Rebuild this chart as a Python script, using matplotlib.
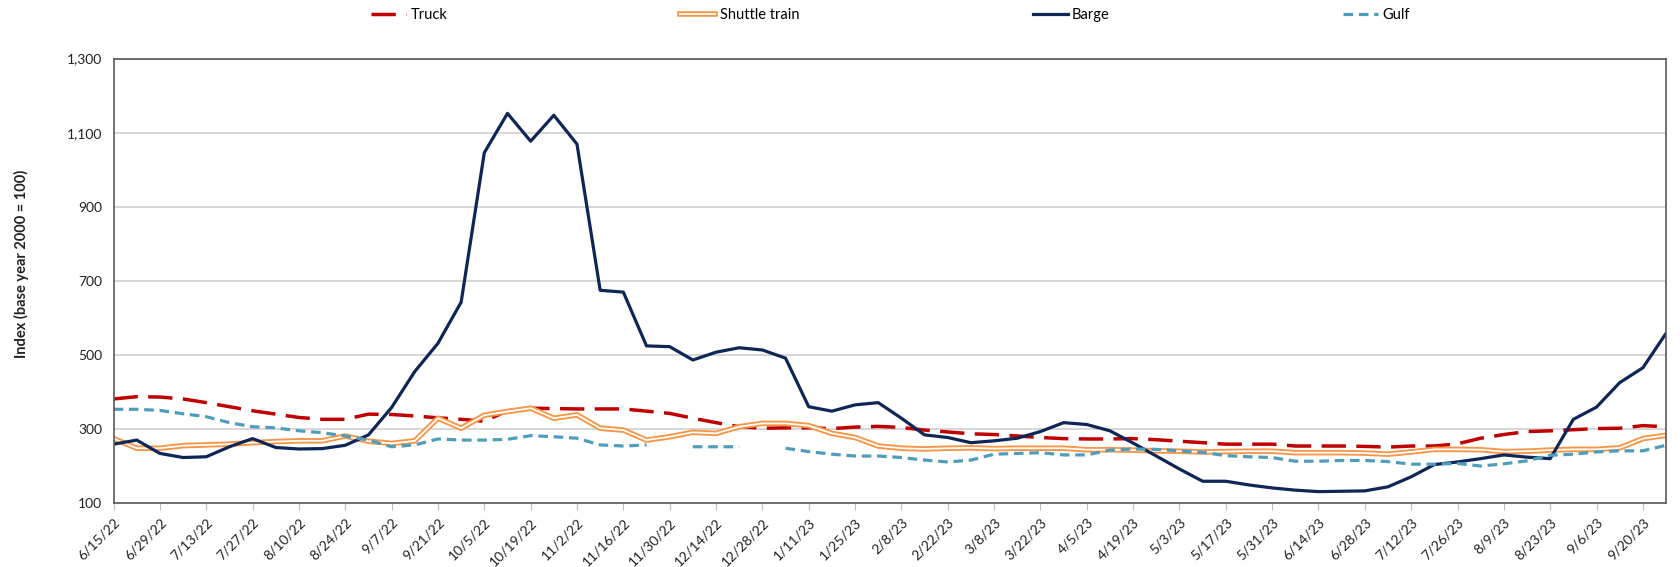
import numpy as np
import pandas as pd
import matplotlib
matplotlib.use("Agg")
import matplotlib.pyplot as plt
import matplotlib.patheffects as pe
from matplotlib.ticker import FuncFormatter

# weekly observations, 6/15/22 .. 9/27/23
weeks = pd.date_range("2022-06-15", periods=68, freq="7D")

truck = [382, 388, 387, 382, 372, 361, 350, 341, 332, 327, 327, 341, 340, 336, 331, 327,
         322, 350, 357, 356, 355, 355, 355, 349, 343, 330, 318, 307, 303, 304, 304, 302,
         306, 308, 305, 298, 293, 288, 286, 282, 278, 275, 274, 274, 275, 272, 268, 264,
         260, 260, 260, 255, 255, 255, 254, 252, 255, 255, 261, 276, 286, 294, 296, 299,
         302, 303, 310, 307]

shuttle = [275, 249, 249, 256, 258, 260, 264, 267, 269, 269, 282, 268, 262, 269, 330, 303,
           338, 348, 357, 330, 339, 303, 298, 271, 280, 292, 289, 307, 316, 316, 310, 289,
           278, 255, 249, 247, 249, 250, 248, 249, 249, 249, 245, 245, 244, 242, 241, 239,
           240, 241, 241, 237, 237, 237, 236, 233, 239, 246, 246, 245, 240, 241, 244, 246,
           246, 250, 275, 284]

barge = [260, 271, 235, 224, 226, 253, 275, 251, 247, 248, 257, 285, 359, 456, 532, 643,
         1046, 1152, 1077, 1147, 1069, 675, 670, 525, 523, 487, 508, 520, 514, 492, 361, 349,
         366, 372, 330, 285, 278, 264, 269, 276, 294, 318, 313, 296, 263, 228, 193, 160,
         160, 150, 142, 136, 132, 133, 134, 145, 172, 205, 212, 221, 231, 225, 221, 327,
         360, 426, 466, 559]

gulf = [354, 354, 351, 342, 334, 318, 307, 304, 296, 291, 282, 271, 253, 258, 274, 271,
        271, 273, 283, 280, 276, 258, 255, 258, np.nan, 253, 253, 253, np.nan, 249, 240, 233,
        228, 228, 224, 217, 212, 217, 233, 235, 237, 231, 231, 244, 247, 246, 242, 238,
        229, 226, 224, 214, 214, 216, 216, 213, 206, 206, 208, 201, 207, 215, 230, 233,
        239, 242, 242, 257]

tick_dates = weeks[::2]
tick_labels = [f"{d.month}/{d.day}/{d.year % 100}" for d in tick_dates]

plt.rcParams["font.family"] = ["Lato", "DejaVu Sans"]

fig = plt.figure(figsize=(16.8, 5.67), dpi=100)
ax = fig.add_axes([0.0676, 0.112, 0.9241, 0.7848])

ax.plot(weeks, truck, color="#C00000", lw=2.5, dashes=(7, 3), label="Truck")
ax.plot(weeks, shuttle, color="white", lw=1.3, label="Shuttle train",
        path_effects=[pe.Stroke(linewidth=4.0, foreground="#F79646"), pe.Normal()])
ax.plot(weeks, barge, color="#0E2656", lw=2.3, label="Barge")
ax.plot(weeks, gulf, color="#4F9DBA", lw=2.3, dashes=(3, 1.8), label="Gulf")

ax.set_xlim(weeks[0], weeks[-1])
ax.set_ylim(100, 1300)
ax.set_yticks(range(100, 1301, 200))
ax.yaxis.set_major_formatter(FuncFormatter(lambda v, p: f"{int(v):,}"))
ax.set_xticks(tick_dates)
ax.set_xticklabels(tick_labels, rotation=45, ha="right", va="top", rotation_mode="anchor")

ax.grid(axis="y", color="#D0D0D0", lw=1.2)
ax.set_axisbelow(True)
for s in ax.spines.values():
    s.set_color("#595959")
    s.set_linewidth(1.2)
ax.tick_params(axis="y", length=0, labelsize=10, pad=8, colors="#222222")
ax.tick_params(axis="x", length=5, color="#BFBFBF", labelsize=10, pad=4, labelcolor="#222222")

fig.text(0.0125, 0.535, "Index (base year 2000 = 100)", rotation=90, ha="center", va="center",
         fontsize=10.5, fontweight="bold", color="#222222")

fig.legend(loc="center", bbox_to_anchor=(0.53, 0.9735), ncol=4, frameon=False,
           fontsize=10.5, handlelength=2.4, handletextpad=0.3, columnspacing=16)

fig.savefig("out.png", dpi=100)
